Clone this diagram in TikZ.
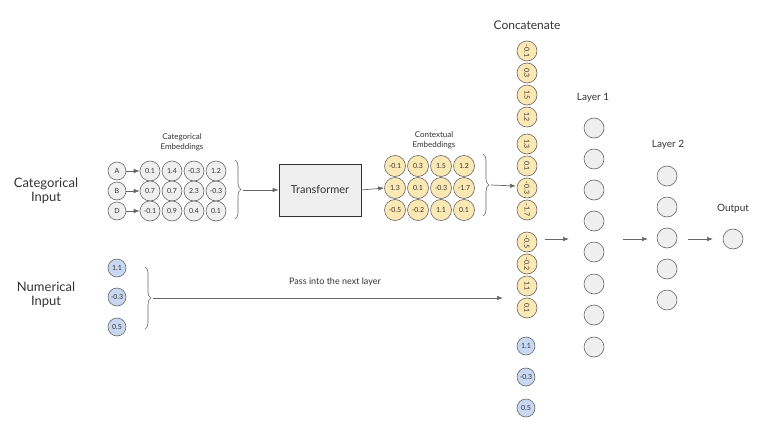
\documentclass[tikz,border=0pt]{standalone}
\usepackage{fontspec}
\setmainfont{Lato}
\usetikzlibrary{arrows.meta,decorations.pathreplacing}
\definecolor{linec}{HTML}{666666}
\definecolor{cgray}{HTML}{EFEFEF}
\definecolor{cyel}{HTML}{FCE8B2}
\definecolor{cblue}{HTML}{C8D8F2}
\definecolor{txt}{HTML}{333333}
\tikzset{
  circ/.style={circle, draw=linec, line width=0.6pt, minimum size=20pt, inner sep=0pt, text=txt, font=\fontsize{7}{8}\selectfont},
  gc/.style={circ, fill=cgray},
  yc/.style={circ, fill=cyel},
  bc/.style={circ, fill=cblue},
  small/.style={minimum size=18pt},
  arr/.style={draw=linec, line width=0.7pt, -{Latex[length=6pt,width=4.5pt]}},
  brc/.style={draw=linec, line width=0.6pt, decorate, decoration={brace, amplitude=6pt}},
  lbl/.style={text=txt, align=center, inner sep=0pt},
}
\begin{document}
\begin{tikzpicture}[x=1pt,y=-1pt]
\useasboundingbox (0,0) rectangle (765,436);
% left labels
\node[lbl, font=\fontsize{13}{14}\selectfont] (catin) at (46,191) {Categorical\\Input};
\node[lbl, font=\fontsize{13}{14}\selectfont] (numin) at (46,295) {Numerical\\Input};
% categorical inputs
\node[gc, small] (A) at (117,171) {A};
\node[gc, small] (B) at (117,191) {B};
\node[gc, small] (D) at (117,211) {D};
\node[lbl, font=\fontsize{8}{10}\selectfont] (catemb) at (182,142) {Categorical\\Embeddings};
% embeddings
\foreach \v [count=\i] in {0.1,1.4,-0.3,1.2} {\node[gc] (e1\i) at (128+22*\i,171) {\v};}
\foreach \v [count=\i] in {0.7,0.7,2.3,-0.3} {\node[gc] (e2\i) at (128+22*\i,191) {\v};}
\foreach \v [count=\i] in {-0.1,0.9,0.4,0.1} {\node[gc] (e3\i) at (128+22*\i,211) {\v};}
\draw[arr] (A) -- (e11);
\draw[arr] (B) -- (e21);
\draw[arr] (D) -- (e31);
% brace 1
\draw[brc] (235,160) -- (235,219);
\coordinate (b1tip) at (243,190);
\node[draw=txt, line width=0.7pt, fill=cgray, minimum width=82pt, minimum height=52pt, inner sep=0pt, text=txt, font=\fontsize{11}{13}\selectfont] (tr) at (320,190) {Transformer};
\draw[arr] (b1tip) -- (tr.west);
% contextual embeddings
\node[lbl, font=\fontsize{8}{10}\selectfont] (ctxemb) at (434,140) {Contextual\\Embeddings};
\foreach \v [count=\i] in {-0.1,0.3,1.5,1.2} {\node[yc, minimum size=21pt] (c1\i) at (372+23*\i,166) {\v};}
\foreach \v [count=\i] in {1.3,0.1,-0.3,-1.7} {\node[yc, minimum size=21pt] (c2\i) at (372+23*\i,188) {\v};}
\foreach \v [count=\i] in {-0.5,-0.2,1.1,0.1} {\node[yc, minimum size=21pt] (c3\i) at (372+23*\i,210) {\v};}
\draw[arr] (tr.east) -- (c21.west);
% brace 2
\draw[brc] (483,154) -- (483,216);
\coordinate (b2tip) at (491,185);
% concatenate
\node[lbl, font=\fontsize{12}{14}\selectfont] (concat) at (527,25) {Concatenate};
\foreach \v [count=\i] in {-0.1,0.3,1.5,1.2} {\node[yc, rotate=-90] (k\i) at (527,29+22*\i) {\v};}
\foreach \v [count=\i] in {1.3,0.1,-0.3,-1.7} {\node[yc, rotate=-90] (m\i) at (527,122+22*\i) {\v};}
\foreach \v [count=\i] in {-0.5,-0.2,1.1,0.1} {\node[yc, rotate=-90] (n\i) at (527,220+22*\i) {\v};}
\node[bc, small] (p1) at (526,346) {1.1};
\node[bc, small] (p2) at (526,377) {-0.3};
\node[bc, small] (p3) at (526,408) {0.5};
\coordinate (b2end) at (516,186);
\draw[arr] (b2tip) -- (b2end);
% numerical inputs
\node[bc, small] (x1) at (117,268) {1.1};
\node[bc, small] (x2) at (117,297) {-0.3};
\node[bc, small] (x3) at (117,327) {0.5};
\draw[brc] (145,267) -- (145,329);
\coordinate (b3tip) at (153,298);
\coordinate (b3end) at (503,298);
\draw[arr] (b3tip) -- (b3end);
\node[lbl, font=\fontsize{9}{11}\selectfont] (pass) at (335,282) {Pass into the next layer};
% layer 1
\node[lbl, font=\fontsize{10}{12}\selectfont] (l1lbl) at (593,98) {Layer 1};
\foreach \y [count=\i] in {128,159,190,221,252,284,315,347} {\node[gc] (h\i) at (594,\y) {};}
% layer 2
\node[lbl, font=\fontsize{10}{12}\selectfont] (l2lbl) at (668,145) {Layer 2};
\foreach \y [count=\i] in {176,207,238,269,300} {\node[gc] (g\i) at (667,\y) {};}
% output
\node[lbl, font=\fontsize{10}{12}\selectfont] (outlbl) at (733,209) {Output};
\node[gc] (o) at (733,239) {};
% arrows between layers
\coordinate (a1s) at (545,239); \coordinate (a1e) at (569,239);
\coordinate (a2s) at (623,239); \coordinate (a2e) at (648,239);
\coordinate (a3s) at (688,239); \coordinate (a3e) at (713,239);
\draw[arr] (a1s) -- (a1e);
\draw[arr] (a2s) -- (a2e);
\draw[arr] (a3s) -- (a3e);
\end{tikzpicture}
\end{document}
